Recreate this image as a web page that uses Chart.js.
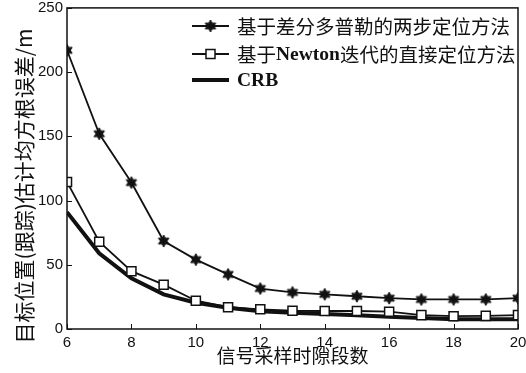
<!DOCTYPE html>
<html>
<head>
<meta charset="utf-8">
<script src="https://cdn.jsdelivr.net/npm/chart.js@4/dist/chart.umd.min.js"></script>
<style>
  html, body { margin: 0; padding: 0; background: #fff; }
  canvas { display: block; }
</style>
</head>
<body>
<canvas id="c" width="526" height="373"></canvas>
<script>
// ---- data ----
const segments = [6, 7, 8, 9, 10, 11, 12, 13, 14, 15, 16, 17, 18, 19, 20];
const twoStepTDOA = [217, 152, 114, 68.5, 54, 42.5, 31.5, 28.5, 27, 25.5, 24, 23, 23, 23, 24];
const newtonDirect = [114.5, 68, 45, 34.5, 22, 17, 15.3, 14.2, 14, 14, 13.5, 10.8, 10, 10.2, 10.8];
const crbValues = [91, 59, 39.5, 27, 20.5, 16.5, 13.8, 12.7, 11.7, 10.7, 9.6, 8.6, 7.6, 7.5, 7.5];
const xTicks = [6, 8, 10, 12, 14, 16, 18, 20];
const yTicks = [0, 50, 100, 150, 200, 250];
const seriesNames = ['基于差分多普勒的两步定位方法', '基于Newton迭代的直接定位方法', 'CRB'];
const xTitle = '信号采样时隙段数';
const yTitle = '目标位置(跟踪)估计均方根误差/m';

const INK = '#111';

function hexagram(r) {
  const c = document.createElement('canvas');
  const s = Math.ceil(r * 2 + 2);
  c.width = s; c.height = s;
  const g = c.getContext('2d');
  const cx = s / 2, cy = s / 2;
  g.beginPath();
  for (let i = 0; i < 12; i++) {
    const a = -Math.PI / 2 + i * Math.PI / 6;
    const rr = i % 2 === 0 ? r : r * 0.55;
    const px = cx + rr * Math.cos(a), py = cy + rr * Math.sin(a);
    if (i === 0) g.moveTo(px, py); else g.lineTo(px, py);
  }
  g.closePath();
  g.fillStyle = INK;
  g.fill();
  g.strokeStyle = INK;
  g.lineWidth = 1;
  g.stroke();
  return c;
}
const starImg = hexagram(6);

function pts(vals) { return segments.map((x, i) => ({ x: x, y: vals[i] })); }

const extras = {
  id: 'extras',
  afterDraw(chart) {
    const ctx = chart.ctx;
    const a = chart.chartArea;
    const xs = chart.scales.x, ys = chart.scales.y;
    ctx.save();
    // inward ticks
    ctx.strokeStyle = INK;
    ctx.lineWidth = 1;
    ctx.beginPath();
    xTicks.forEach(v => {
      const p = Math.round(xs.getPixelForValue(v)) + 0.5;
      ctx.moveTo(p, a.bottom); ctx.lineTo(p, a.bottom - 5);
    });
    yTicks.forEach(v => {
      const p = Math.round(ys.getPixelForValue(v)) + 0.5;
      ctx.moveTo(a.left, p); ctx.lineTo(a.left + 5, p);
    });
    ctx.stroke();
    // box
    ctx.lineWidth = 1.5;
    ctx.strokeRect(a.left, a.top, a.right - a.left, a.bottom - a.top);

    // y title
    ctx.save();
    ctx.translate(24, 186);
    ctx.rotate(-Math.PI / 2);
    ctx.fillStyle = INK;
    ctx.font = '21px "Noto Sans CJK SC", sans-serif';
    ctx.textAlign = 'center';
    ctx.textBaseline = 'middle';
    ctx.fillText(yTitle, 0, 0);
    ctx.restore();

    // legend
    const rows = [26, 54, 80];
    const x0 = 192, x1 = 229, tx = 237;
    chart.data.datasets.forEach((ds, i) => {
      const y = rows[i];
      ctx.strokeStyle = INK;
      ctx.lineWidth = ds.borderWidth;
      ctx.beginPath(); ctx.moveTo(x0, y); ctx.lineTo(x1, y); ctx.stroke();
      const mx = (x0 + x1) / 2;
      if (i === 0) {
        ctx.drawImage(starImg, mx - starImg.width / 2, y - starImg.height / 2);
      } else if (i === 1) {
        ctx.fillStyle = '#fff';
        ctx.lineWidth = 1.5;
        ctx.fillRect(mx - 4.5, y - 4.5, 9, 9);
        ctx.strokeRect(mx - 4.5, y - 4.5, 9, 9);
      }
      // text runs: latin bold serif, CJK regular
      const text = seriesNames[i];
      const runs = text.match(/[A-Za-z0-9]+|[^A-Za-z0-9]+/g);
      let cx = tx;
      ctx.fillStyle = INK;
      ctx.textBaseline = 'middle';
      ctx.textAlign = 'left';
      runs.forEach(r => {
        if (/^[A-Za-z0-9]+$/.test(r)) {
          ctx.font = 'bold 19.5px "Liberation Serif", serif';
        } else {
          ctx.font = '19.5px "Noto Sans CJK SC", sans-serif';
        }
        ctx.fillText(r, cx, y + 1);
        cx += ctx.measureText(r).width;
      });
    });
    ctx.restore();
  }
};

new Chart(document.getElementById('c'), {
  type: 'line',
  data: {
    datasets: [
      {
        label: seriesNames[0],
        data: pts(twoStepTDOA),
        borderColor: INK,
        backgroundColor: INK,
        borderWidth: 1.8,
        pointStyle: starImg,
        pointRadius: 5,
        tension: 0
      },
      {
        label: seriesNames[1],
        data: pts(newtonDirect),
        borderColor: INK,
        backgroundColor: '#fff',
        borderWidth: 1.8,
        pointStyle: 'rect',
        pointRadius: 6.4,
        pointBorderWidth: 1.5,
        tension: 0
      },
      {
        label: seriesNames[2],
        data: pts(crbValues),
        borderColor: INK,
        borderWidth: 4,
        pointRadius: 0,
        tension: 0
      }
    ]
  },
  options: {
    responsive: false,
    animation: false,
    devicePixelRatio: 1,
    layout: { padding: { top: 0, right: 8, left: 0, bottom: 0 } },
    plugins: { legend: { display: false }, tooltip: { enabled: false } },
    scales: {
      x: {
        type: 'linear',
        min: 6, max: 20,
        afterBuildTicks(s) { s.ticks = xTicks.map(v => ({ value: v })); },
        afterFit(s) { s.height = 44; s.paddingLeft = 0; s.paddingRight = 8; },
        grid: { display: false, drawTicks: false },
        border: { display: false },
        ticks: { padding: 5, color: INK, font: { family: '"Liberation Sans", Arial, sans-serif', size: 15 }, maxRotation: 0 },
        title: {
          display: true,
          text: xTitle,
          color: INK,
          font: { family: '"Noto Sans CJK SC", sans-serif', size: 19 },
          padding: { top: 0, bottom: 6 }
        }
      },
      y: {
        min: 0, max: 250,
        afterBuildTicks(s) { s.ticks = yTicks.map(v => ({ value: v })); },
        afterFit(s) { s.width = 67; s.paddingTop = 7.5; s.paddingBottom = 0; },
        grid: { display: false, drawTicks: false },
        border: { display: false },
        ticks: { padding: 4, color: INK, font: { family: '"Liberation Sans", Arial, sans-serif', size: 15 } }
      }
    }
  },
  plugins: [extras]
});
</script>
</body>
</html>
